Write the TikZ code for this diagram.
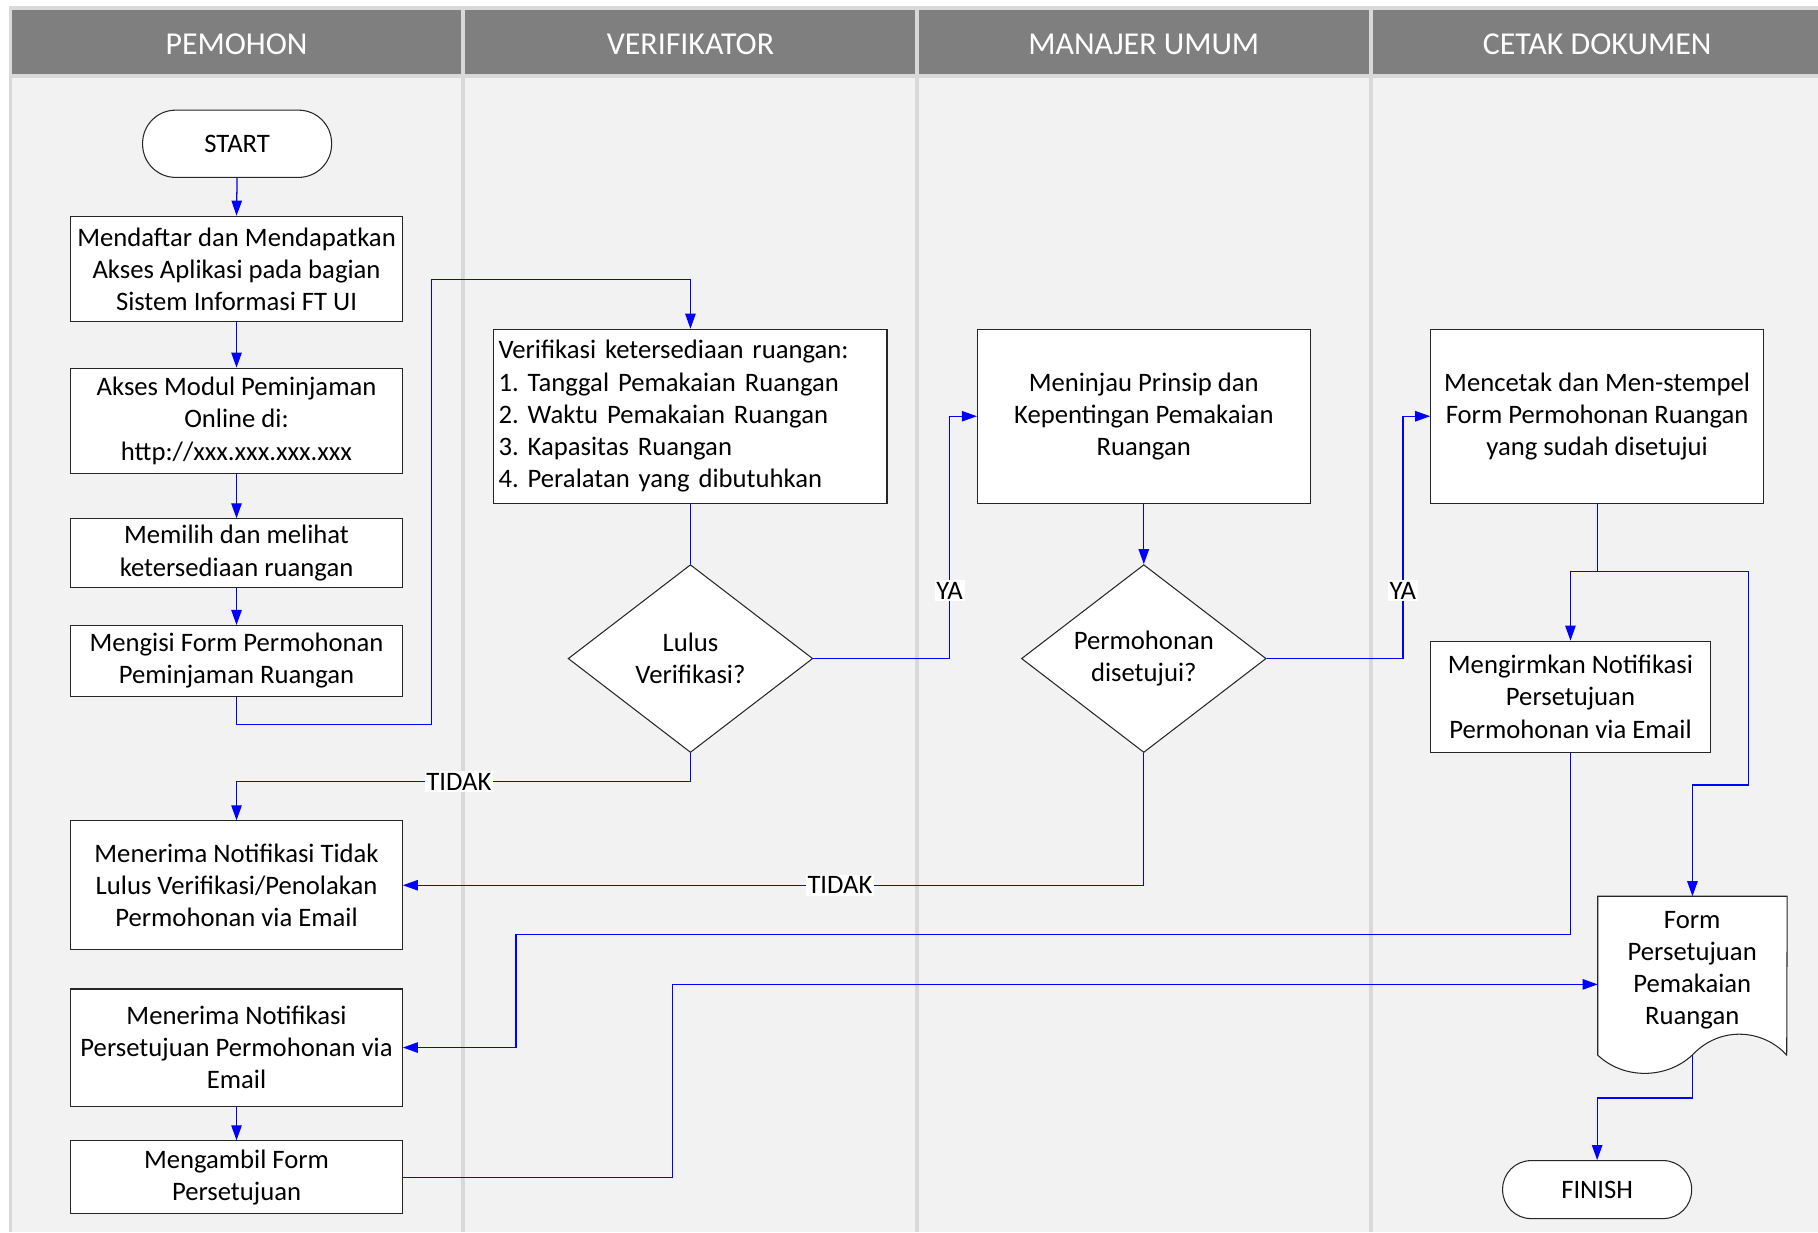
\documentclass[tikz,border=0pt]{standalone}
\usepackage{fontspec}
\setmainfont{Carlito}
\usetikzlibrary{arrows.meta,shapes.geometric,calc}
\definecolor{laneframe}{HTML}{D9D9D9}
\definecolor{lanebg}{HTML}{F2F2F2}
\definecolor{hdrgray}{HTML}{7F7F7F}
\definecolor{flowblue}{HTML}{0000FF}
\frenchspacing
\begin{document}
\begin{tikzpicture}[x=1pt,y=-1pt,
  every node/.style={font=\fontsize{23}{27.7}\selectfont},
  hdrtext/.style={text=white,font=\fontsize{27.5}{32}\selectfont},
  procbox/.style={draw=black!85,fill=white,line width=0.9pt,align=center,inner sep=2pt},
  termbox/.style={draw=black!85,fill=white,line width=0.9pt,align=center,inner sep=2pt,rounded corners=24.5pt},
  decbox/.style={diamond,aspect=1.3,draw=black!85,fill=white,line width=0.9pt,align=center,inner sep=0pt,minimum width=211pt,minimum height=162pt},
  conn/.style={draw=flowblue,line width=1.1pt,-{Triangle[length=13pt,width=9pt]}},
  plainconn/.style={draw=flowblue,line width=1.1pt},
  lab/.style={fill=white,inner sep=1.5pt,text=black}
]
\useasboundingbox (0,0) rectangle (1568,1062.6);
% lanes
\fill[white] (0,0) rectangle (1568,1062.6);
\fill[laneframe] (7.5,5) rectangle (1568,1062.6);
\foreach \a/\b in {10/397.7,401.2/789.3,792.7/1180.8,1184.2/1568}{
  \fill[hdrgray] (\a,8.6) rectangle (\b,64);
  \fill[lanebg] (\a,67.4) rectangle (\b,1062.6);
}
\node[hdrtext] (h1) at (204,38) {PEMOHON};
\node[hdrtext] (h2) at (595.5,38) {VERIFIKATOR};
\node[hdrtext] (h3) at (986.5,38) {MANAJER UMUM};
\node[hdrtext] (h4) at (1377.5,38) {CETAK DOKUMEN};

% nodes
\node[termbox,minimum width=163pt,minimum height=58pt,rounded corners=28.5pt] (start) at (204.5,124) {START};
\node[procbox,minimum width=286pt,minimum height=91pt] (b1) at (204,232) {Mendaftar dan Mendapatkan\\Akses Aplikasi pada bagian\\Sistem Informasi FT UI};
\node[procbox,minimum width=286pt,minimum height=91pt] (b2) at (204,363) {Akses Modul Peminjaman\\Online di:\\http://xxx.xxx.xxx.xxx};
\node[procbox,minimum width=286pt,minimum height=59pt] (b3) at (204,477) {Memilih dan melihat\\ketersediaan ruangan};
\node[procbox,minimum width=286pt,minimum height=61pt] (b4) at (204,570) {Mengisi Form Permohonan\\Peminjaman Ruangan};
\node[procbox,text width=331pt,inner sep=4pt,align=left,minimum height=150pt] (verif) at (595.5,359) {Verifikasi ketersediaan ruangan:\\1. Tanggal Pemakaian Ruangan\\2. Waktu Pemakaian Ruangan\\3. Kapasitas Ruangan\\4. Peralatan yang dibutuhkan};
\node[decbox] (d1) at (595.5,568) {Lulus\\Verifikasi?};
\node[procbox,minimum width=287pt,minimum height=150pt] (meninjau) at (986.5,359) {Meninjau Prinsip dan\\Kepentingan Pemakaian\\Ruangan};
\node[decbox] (d2) at (986.5,568) {Permohonan\\disetujui?};
\node[procbox,minimum width=287pt,minimum height=150pt] (cetak) at (1377.5,359) {Mencetak dan Men-stempel\\Form Permohonan Ruangan\\yang sudah disetujui};
\node[procbox,minimum width=241pt,minimum height=96pt] (kirim) at (1354.5,601) {Mengirmkan Notifikasi\\Persetujuan\\Permohonan via Email};
\node[procbox,minimum width=286pt,minimum height=111pt] (tidak) at (204,763.5) {Menerima Notifikasi Tidak\\Lulus Verifikasi/Penolakan\\Permohonan via Email};
\node[procbox,minimum width=286pt,minimum height=101pt] (setuju) at (204,903.5) {Menerima Notifikasi\\Persetujuan Permohonan via\\Email};
\node[procbox,minimum width=286pt,minimum height=63pt] (ambil) at (204,1015.5) {Mengambil Form\\Persetujuan};
\node[termbox,minimum width=163pt,minimum height=50pt] (finish) at (1377.5,1026) {FINISH};

% document shape
\node[minimum width=163pt,minimum height=137pt,inner sep=0pt,anchor=north west] (doc) at (1378,773) {};
\draw[draw=black!85,fill=white,line width=0.9pt] (doc.north west) -- (doc.north east) -- (1541,910)
  .. controls (1521,888) and (1484,884) .. (1459.5,910)
  .. controls (1437,931) and (1400,931) .. (1378,910) -- cycle;
\node[align=center] (doctext) at (1459.5,837) {Form\\Persetujuan\\Pemakaian\\Ruangan};
\coordinate (docin) at (1378,849);
\coordinate (docout) at (1459.5,910);

% connectors
\draw[conn] (start.south) -- (b1.north);
\draw[conn] (b1.south) -- (b2.north);
\draw[conn] (b2.south) -- (b3.north);
\draw[conn] (b3.south) -- (b4.north);
\draw[conn] (b4.south) -- ++(0,24) -| (372,241) -| (verif.north);
\draw[plainconn] (verif.south) -- (d1.north);
\draw[conn] (d1.east) -- (819,568) -- node[lab,pos=0.28]{YA} (819,359) -- (meninjau.west);
\draw[conn] (d1.south) -- (595.5,674) -- node[lab,pos=0.51]{TIDAK} (204,674) -- (tidak.north);
\draw[conn] (meninjau.south) -- (d2.north);
\draw[conn] (d2.east) -- (1210,568) -- node[lab,pos=0.28]{YA} (1210,359) -- (cetak.west);
\draw[conn] (d2.south) -- (986.5,763.5) -- node[lab,pos=0.41]{TIDAK} (tidak.east);
\draw[conn] (cetak.south) -- (1377.5,493) -| (kirim.north);
\draw[conn] (cetak.south) -- (1377.5,493) -| (1508,677) -| (doc.north);
\draw[conn] (kirim.south) |- (445,806) |- (setuju.east);
\draw[conn] (setuju.south) -- (ambil.north);
\draw[conn] (ambil.east) -| (580,849) -- (docin);
\draw[conn] (docout) -- (1459.5,947) -| (finish.north);
\end{tikzpicture}
\end{document}
